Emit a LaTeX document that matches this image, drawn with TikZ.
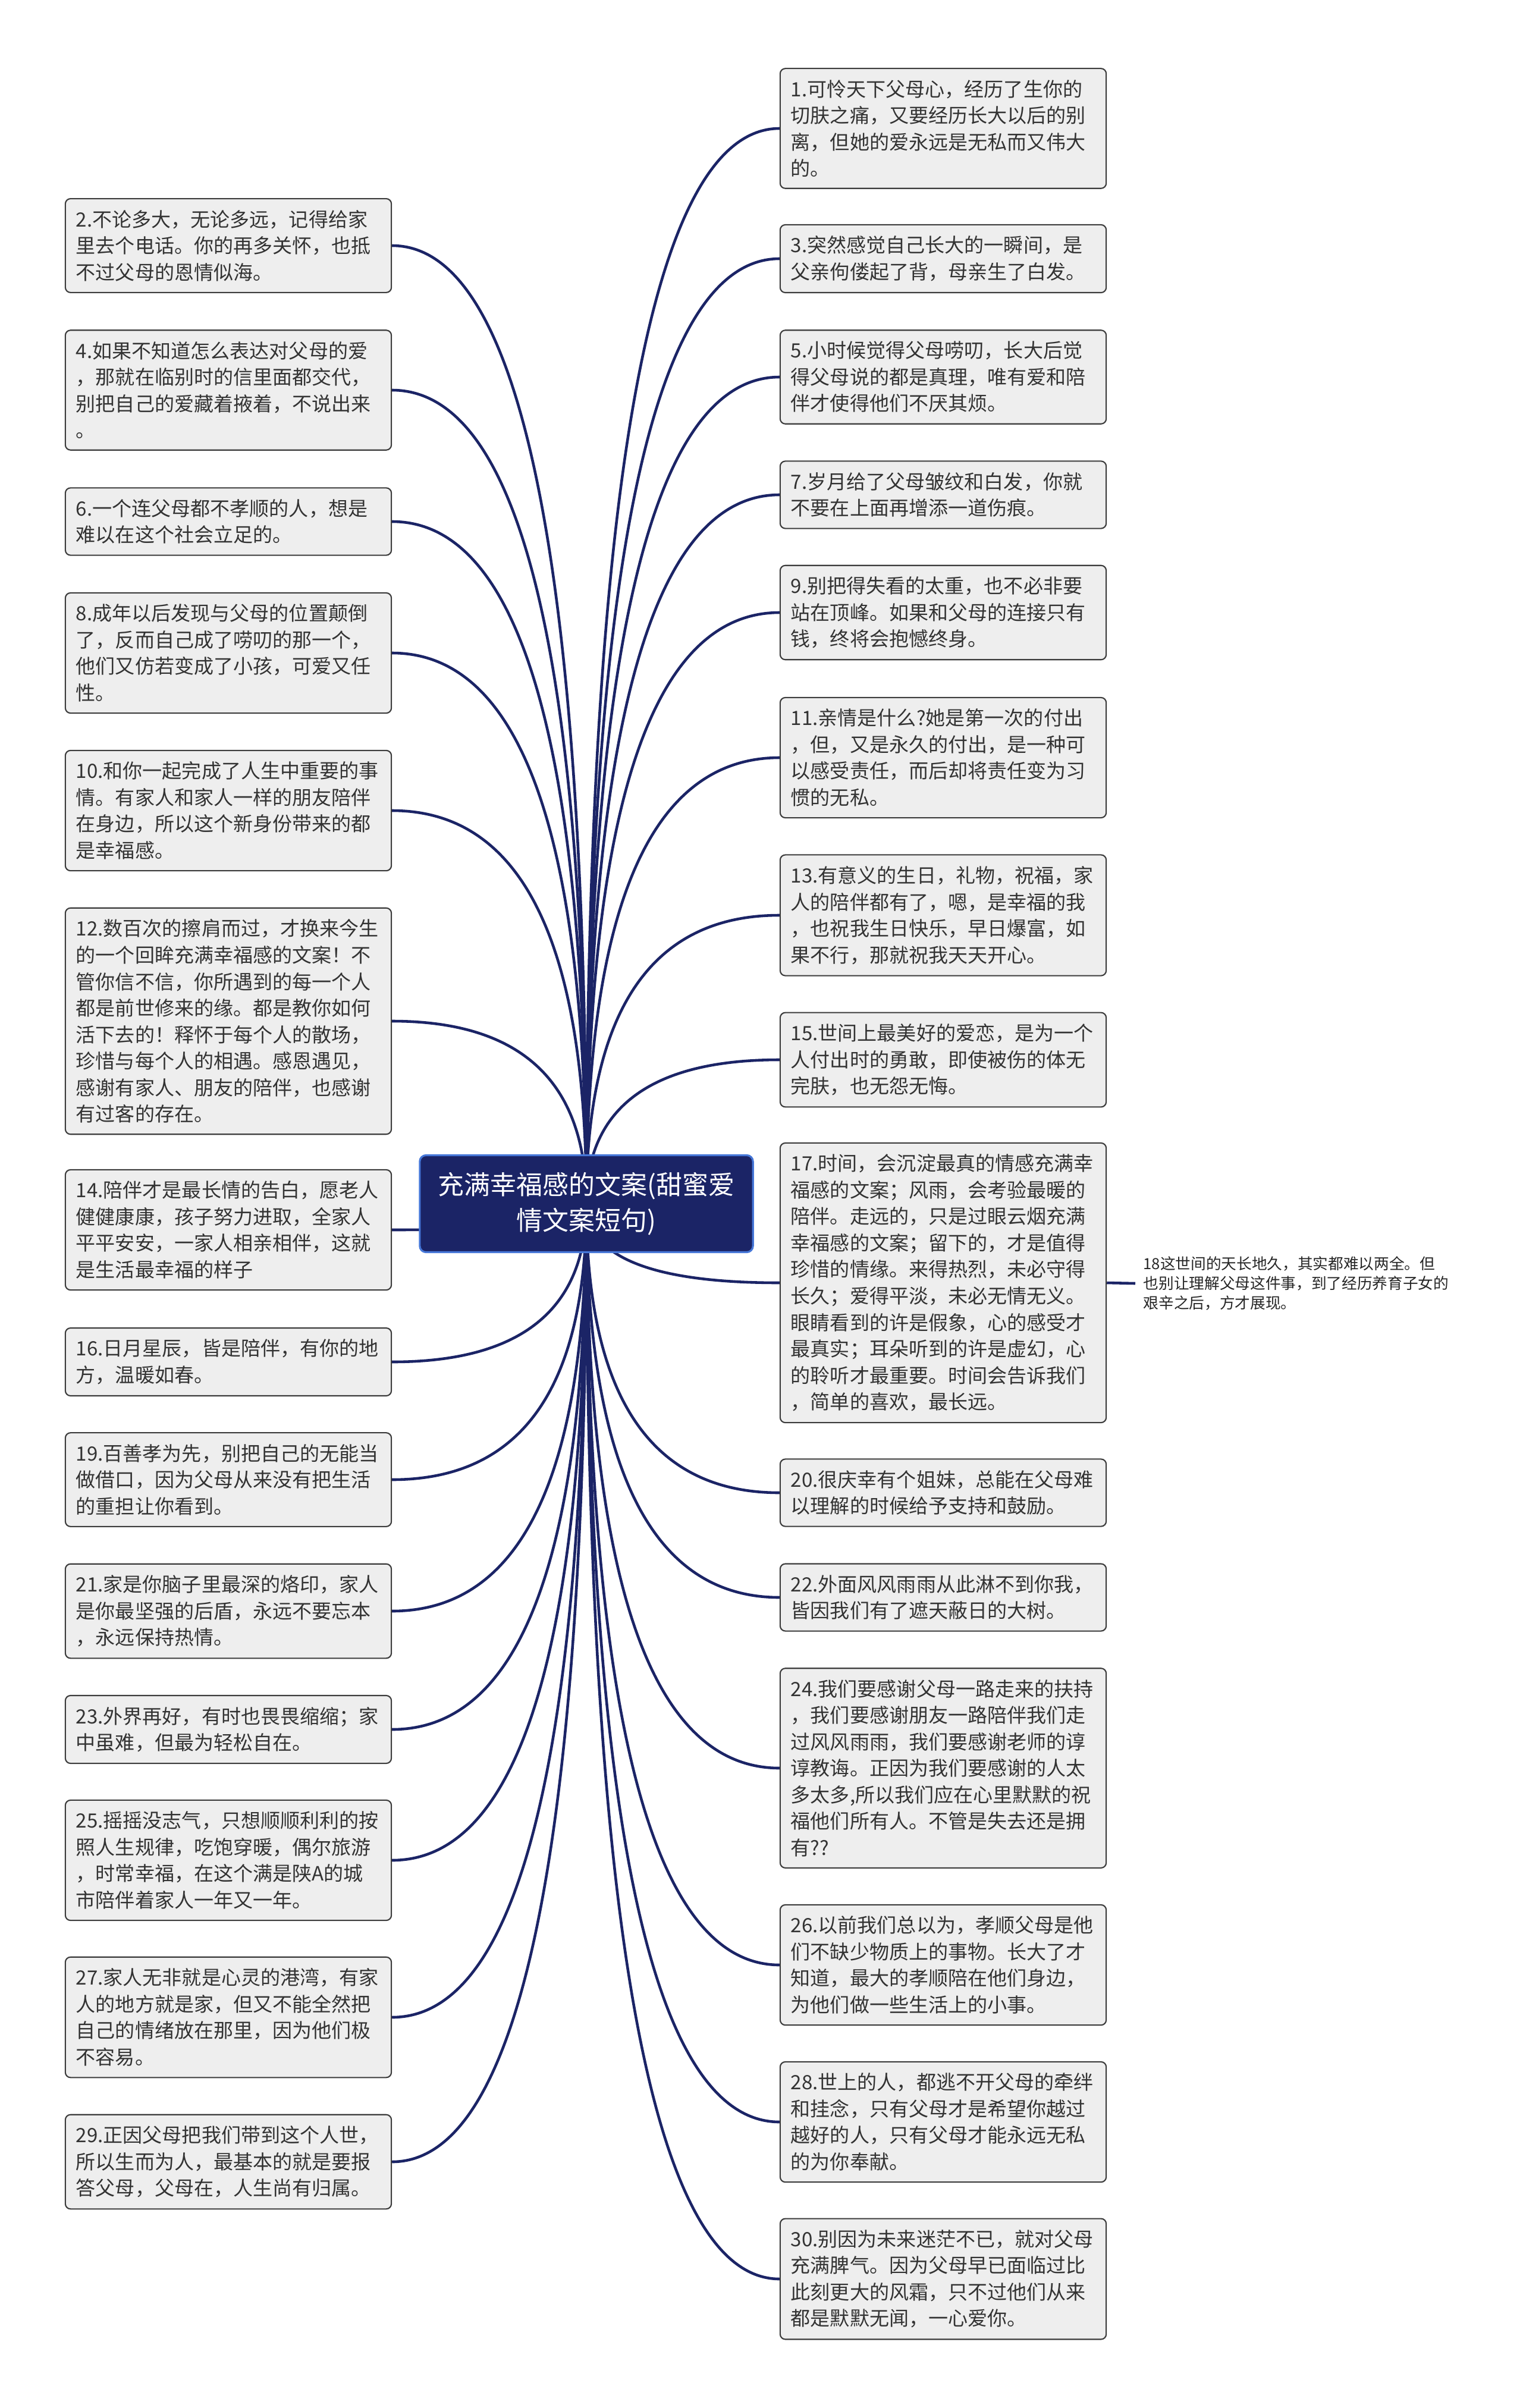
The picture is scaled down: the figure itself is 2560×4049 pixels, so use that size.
\documentclass[tikz,border=0pt]{standalone}
\usepackage{fontspec}
\setmainfont{Noto Sans CJK SC}
\definecolor{azul}{HTML}{1B2466}
\definecolor{azulborde}{HTML}{4677D8}
\definecolor{gris}{HTML}{EEEEEE}
\definecolor{grisborde}{HTML}{3C3C3C}
\definecolor{texto}{HTML}{333333}
\usepackage{tikz}
\usetikzlibrary{calc,backgrounds}

\begin{document}
\begin{tikzpicture}[x=0.01cm, y=-0.01cm,
        raiz/.style={draw=azulborde, line width=0.9pt, fill=azul, rounded corners=3pt, text=white, align=center, minimum width=5.6cm, minimum height=1.63cm, font=\fontsize{12.5}{17}\selectfont},
        caja/.style={draw=grisborde, line width=0.6pt, fill=gris, rounded corners=2.5pt, text=texto, text width=5.12cm, align=left, inner xsep=0.18cm, inner ysep=0.19cm, font=\fontsize{9.4}{12.66}\selectfont},
        nota/.style={anchor=west, text=black!85, text width=5.4cm, align=left, inner xsep=0.13cm, inner ysep=0pt, font=\fontsize{7.3}{9.4}\selectfont},
        rama/.style={draw=azul, line width=1.3pt, to path={.. controls ($(\tikztostart)!2/3!(\tikztostart |- \tikztotarget)$) and ($(\tikztotarget)!2/3!(\tikztostart |- \tikztotarget)$) .. (\tikztotarget)}}
    ]
        \useasboundingbox (0,0) rectangle (2560,4049);
        % tema
        \node (tema) [raiz] at (986,2024) {充满幸福感的文案(甜蜜爱\\情文案短句)};
        % ramas derecha
        \node (n1) [caja] at (1586,216) {1.可怜天下父母心，经历了生你的\\切肤之痛，又要经历长大以后的别\\离，但她的爱永远是无私而又伟大\\的。};
        \node (n3) [caja] at (1586,435) {3.突然感觉自己长大的一瞬间，是\\父亲佝偻起了背，母亲生了白发。};
        \node (n5) [caja] at (1586,634) {5.小时候觉得父母唠叨，长大后觉\\得父母说的都是真理，唯有爱和陪\\伴才使得他们不厌其烦。};
        \node (n7) [caja] at (1586,832) {7.岁月给了父母皱纹和白发，你就\\不要在上面再增添一道伤痕。};
        \node (n9) [caja] at (1586,1030) {9.别把得失看的太重，也不必非要\\站在顶峰。如果和父母的连接只有\\钱，终将会抱憾终身。};
        \node (n11) [caja] at (1586,1274) {11.亲情是什么?她是第一次的付出\\，但，又是永久的付出，是一种可\\以感受责任，而后却将责任变为习\\惯的无私。};
        \node (n13) [caja] at (1586,1539) {13.有意义的生日，礼物，祝福，家\\人的陪伴都有了，嗯，是幸福的我\\，也祝我生日快乐，早日爆富，如\\果不行，那就祝我天天开心。};
        \node (n15) [caja] at (1586,1782) {15.世间上最美好的爱恋，是为一个\\人付出时的勇敢，即使被伤的体无\\完肤，也无怨无悔。};
        \node (n17) [caja] at (1586,2157) {17.时间，会沉淀最真的情感充满幸\\福感的文案；风雨，会考验最暖的\\陪伴。走远的，只是过眼云烟充满\\幸福感的文案；留下的，才是值得\\珍惜的情缘。来得热烈，未必守得\\长久；爱得平淡，未必无情无义。\\眼睛看到的许是假象，心的感受才\\最真实；耳朵听到的许是虚幻，心\\的聆听才最重要。时间会告诉我们\\，简单的喜欢，最长远。};
        \node (n20) [caja] at (1586,2510) {20.很庆幸有个姐妹，总能在父母难\\以理解的时候给予支持和鼓励。};
        \node (n22) [caja] at (1586,2686) {22.外面风风雨雨从此淋不到你我，\\皆因我们有了遮天蔽日的大树。};
        \node (n24) [caja] at (1586,2973) {24.我们要感谢父母一路走来的扶持\\，我们要感谢朋友一路陪伴我们走\\过风风雨雨，我们要感谢老师的谆\\谆教诲。正因为我们要感谢的人太\\多太多,所以我们应在心里默默的祝\\福他们所有人。不管是失去还是拥\\有??};
        \node (n26) [caja] at (1586,3304) {26.以前我们总以为，孝顺父母是他\\们不缺少物质上的事物。长大了才\\知道，最大的孝顺陪在他们身边，\\为他们做一些生活上的小事。};
        \node (n28) [caja] at (1586,3568) {28.世上的人，都逃不开父母的牵绊\\和挂念，只有父母才是希望你越过\\越好的人，只有父母才能永远无私\\的为你奉献。};
        \node (n30) [caja] at (1586,3832) {30.别因为未来迷茫不已，就对父母\\充满脾气。因为父母早已面临过比\\此刻更大的风霜，只不过他们从来\\都是默默无闻，一心爱你。};
        \node (n18) [nota] at (1909,2158) {18这世间的天长地久，其实都难以两全。但\\也别让理解父母这件事，到了经历养育子女的\\艰辛之后，方才展现。};
        % ramas izquierda
        \node (n2) [caja] at (384,413) {2.不论多大，无论多远，记得给家\\里去个电话。你的再多关怀，也抵\\不过父母的恩情似海。};
        \node (n4) [caja] at (384,656) {4.如果不知道怎么表达对父母的爱\\，那就在临别时的信里面都交代，\\别把自己的爱藏着掖着，不说出来\\。};
        \node (n6) [caja] at (384,877) {6.一个连父母都不孝顺的人，想是\\难以在这个社会立足的。};
        \node (n8) [caja] at (384,1098) {8.成年以后发现与父母的位置颠倒\\了，反而自己成了唠叨的那一个，\\他们又仿若变成了小孩，可爱又任\\性。};
        \node (n10) [caja] at (384,1363) {10.和你一起完成了人生中重要的事\\情。有家人和家人一样的朋友陪伴\\在身边，所以这个新身份带来的都\\是幸福感。};
        \node (n12) [caja] at (384,1717) {12.数百次的擦肩而过，才换来今生\\的一个回眸充满幸福感的文案！不\\管你信不信，你所遇到的每一个人\\都是前世修来的缘。都是教你如何\\活下去的！释怀于每个人的散场，\\珍惜与每个人的相遇。感恩遇见，\\感谢有家人、朋友的陪伴，也感谢\\有过客的存在。};
        \node (n14) [caja] at (384,2068) {14.陪伴才是最长情的告白，愿老人\\健健康康，孩子努力进取，全家人\\平平安安，一家人相亲相伴，这就\\是生活最幸福的样子};
        \node (n16) [caja] at (384,2290) {16.日月星辰，皆是陪伴，有你的地\\方，温暖如春。};
        \node (n19) [caja] at (384,2488) {19.百善孝为先，别把自己的无能当\\做借口，因为父母从来没有把生活\\的重担让你看到。};
        \node (n21) [caja] at (384,2709) {21.家是你脑子里最深的烙印，家人\\是你最坚强的后盾，永远不要忘本\\，永远保持热情。};
        \node (n23) [caja] at (384,2908) {23.外界再好，有时也畏畏缩缩；家\\中虽难，但最为轻松自在。};
        \node (n25) [caja] at (384,3128) {25.摇摇没志气，只想顺顺利利的按\\照人生规律，吃饱穿暖，偶尔旅游\\，时常幸福，在这个满是陕A的城\\市陪伴着家人一年又一年。};
        \node (n27) [caja] at (384,3392) {27.家人无非就是心灵的港湾，有家\\人的地方就是家，但又不能全然把\\自己的情绪放在那里，因为他们极\\不容易。};
        \node (n29) [caja] at (384,3635) {29.正因父母把我们带到这个人世，\\所以生而为人，最基本的就是要报\\答父母，父母在，人生尚有归属。};
        % conexiones
        \begin{pgfonlayer}{background}
            \fill[white] (0,0) rectangle (2560,4049);
            \draw[rama] (tema.center) to (n1.west);
            \draw[rama] (tema.center) to (n3.west);
            \draw[rama] (tema.center) to (n5.west);
            \draw[rama] (tema.center) to (n7.west);
            \draw[rama] (tema.center) to (n9.west);
            \draw[rama] (tema.center) to (n11.west);
            \draw[rama] (tema.center) to (n13.west);
            \draw[rama] (tema.center) to (n15.west);
            \draw[rama] (tema.center) to (n17.west);
            \draw[rama] (tema.center) to (n20.west);
            \draw[rama] (tema.center) to (n22.west);
            \draw[rama] (tema.center) to (n24.west);
            \draw[rama] (tema.center) to (n26.west);
            \draw[rama] (tema.center) to (n28.west);
            \draw[rama] (tema.center) to (n30.west);
            \draw[rama] (tema.center) to (n2.east);
            \draw[rama] (tema.center) to (n4.east);
            \draw[rama] (tema.center) to (n6.east);
            \draw[rama] (tema.center) to (n8.east);
            \draw[rama] (tema.center) to (n10.east);
            \draw[rama] (tema.center) to (n12.east);
            \draw[rama] (tema.center) to (n14.east);
            \draw[rama] (tema.center) to (n16.east);
            \draw[rama] (tema.center) to (n19.east);
            \draw[rama] (tema.center) to (n21.east);
            \draw[rama] (tema.center) to (n23.east);
            \draw[rama] (tema.center) to (n25.east);
            \draw[rama] (tema.center) to (n27.east);
            \draw[rama] (tema.center) to (n29.east);
            \draw[rama] (n17.east) -- (n18.west);
        \end{pgfonlayer}
    \end{tikzpicture}
\end{document}
